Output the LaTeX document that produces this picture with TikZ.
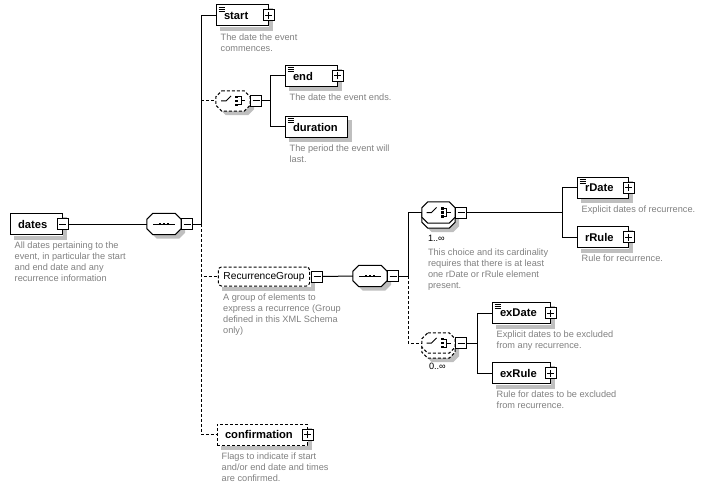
\documentclass[tikz,border=0pt]{standalone}
\usepackage{fontspec}
\setmainfont{Liberation Sans}
\usetikzlibrary{positioning, calc}
\tikzstyle{wire} = [line width=1pt]
\tikzstyle{optwire} = [line width=1pt, dash pattern=on 3pt off 2pt]
\colorlet{shadowgray}{black!25}

% octagon frame round an (invisible) compositor node, moved right by #2 and down by #3
\newcommand\compframe[4]{%
  \path[#4] ([shift={({6+#2},{#3})}]#1.north west) -- ([shift={({-6+#2},{#3})}]#1.north east)
    -- ([shift={({#2},{6+#3})}]#1.north east) -- ([shift={({#2},{-6+#3})}]#1.south east)
    -- ([shift={({-6+#2},{#3})}]#1.south east) -- ([shift={({6+#2},{#3})}]#1.south west)
    -- ([shift={({#2},{-6+#3})}]#1.south west) -- ([shift={({#2},{6+#3})}]#1.north west) -- cycle;}
% shadow strips on the right of and under a box
\newcommand\boxshadow[1]{%
  \fill[shadowgray] ($(#1.north east)+(0.5,4)$) rectangle ($(#1.south east)+(4.5,4.5)$);
  \fill[shadowgray] ($(#1.south west)+(4,0.5)$) rectangle ($(#1.south east)+(4.5,4.5)$);}
\newcommand\seqicon[1]{%
  \draw[line width=1pt] ([xshift=-11pt]#1.center) -- ([xshift=11pt]#1.center);
  \foreach \dx in {-4,0,4}
    \fill[black] ([shift={(\dx-1.4,-1.4)}]#1.center) rectangle ([shift={(\dx+1.4,1.4)}]#1.center);}
\newcommand\choiceicon[1]{%
  \draw[line width=1pt] ([xshift=-12pt]#1.center) -- ++(5,0) -- ++(5,-5);
  \foreach \dy in {-4,0,4}
    \fill[black] ([shift={(2.4,\dy-1.3)}]#1.center) rectangle ([shift={(5.2,\dy+1.3)}]#1.center);
  \draw[line width=1pt] ([shift={(5.2,-4)}]#1.center) -- ++(3,0) -- ++(0,8) -- ++(-3,0);
  \draw[line width=1pt] ([shift={(8,0)}]#1.center) -- ++(4,0);}

\begin{document}
\begin{tikzpicture}[
    x=1pt, y=-1pt,
    elem/.style={rectangle, draw, line width=1pt, fill=white, inner xsep=8pt, inner ysep=0pt, minimum height=21pt,
        align=left, font=\fontsize{11.2}{13}\selectfont\bfseries},
    optelem/.style={elem, dash pattern=on 3pt off 2pt},
    doc/.style={path picture={
        \foreach \dy in {2,4,6}
            \draw[line width=0.8pt, solid] ([shift={(2.5,\dy)}]path picture bounding box.north west) -- ++(6,0);
    }},
    group/.style={rectangle, rounded corners=3pt, draw, line width=1pt, dash pattern=on 3pt off 2pt, fill=white,
        inner xsep=5pt, inner ysep=0pt, minimum height=19pt, font=\fontsize{10.2}{12}\selectfont},
    comp/.style={rectangle, minimum width=34pt, minimum height=21pt, inner sep=0pt},
    frame/.style={draw, fill=white, line width=1pt},
    optframe/.style={frame, dash pattern=on 3pt off 2pt},
    btn/.style={rectangle, draw, line width=1pt, fill=white, minimum size=11pt, inner sep=0pt},
    minus/.style={btn, path picture={
        \draw[line width=1pt] ([xshift=-3.5pt]path picture bounding box.center) -- ([xshift=3.5pt]path picture bounding box.center);
    }},
    plus/.style={btn, path picture={
        \draw[line width=1pt] ([xshift=-3.5pt]path picture bounding box.center) -- ([xshift=3.5pt]path picture bounding box.center);
        \draw[line width=1pt] ([yshift=-3.5pt]path picture bounding box.center) -- ([yshift=3.5pt]path picture bounding box.center);
    }},
    desc/.style={anchor=north west, inner sep=0pt, align=left, text=black!50, font=\fontsize{9.2}{11}\selectfont},
    card/.style={anchor=north west, inner sep=0pt, font=\fontsize{9.2}{11}\selectfont}
]
    \useasboundingbox (0,0) rectangle (703,489);

    \coordinate (trunk) at (201,224);
    \coordinate (fork1) at (270,101);
    \coordinate (fork2) at (408,276);
    \coordinate (fork3) at (562,212.5);
    \coordinate (fork4) at (477,343);

    \node[elem, text width=36pt] (dates) at (36,224) {dates};
    \node[desc] (dates-doc) at ([shift={(5,7)}]dates.south west) {All dates pertaining to the\\event, in particular the start\\and end date and any\\recurrence information};

    \node[comp] (seq1) at (164,224) {};

    \node[elem, doc, text width=36pt] (start) at (242,15.5) {start};
    \node[desc] (start-doc) at ([shift={(5,7)}]start.south west) {The date the event\\commences.};

    \node[comp, minimum height=20pt] (ch1) at (233,101) {};

    \node[elem, doc, text width=36pt] (end) at (311,76) {end};
    \node[desc] (end-doc) at ([shift={(5,7)}]end.south west) {The date the event ends.};

    \node[elem, doc, text width=46pt] (duration) at (316,127) {duration};
    \node[desc] (duration-doc) at ([shift={(5,7)}]duration.south west) {The period the event will\\last.};

    \node[group] (recgroup) at (264,276.5) {RecurrenceGroup};
    \node[desc] (recgroup-doc) at ([shift={(5,7)}]recgroup.south west) {A group of elements to\\express a recurrence (Group\\defined in this XML Schema\\only)};

    \node[comp] (seq2) at (370,276) {};

    \node[comp, minimum width=33pt] (ch2) at (438.5,212.5) {};
    \node[card] (ch2-card) at ([shift={(6,12)}]ch2.south west) {1..∞};
    \node[desc] (ch2-doc) at ([shift={(0,7)}]ch2-card.south west) {This choice and its cardinality\\requires that there is at least\\one rDate or rRule element\\present.};

    \node[comp, minimum width=33pt, minimum height=20pt] (ch3) at (438.5,343) {};
    \node[card] (ch3-card) at ([shift={(7,10)}]ch3.south west) {0..∞};

    \node[elem, doc, text width=35pt] (rdate) at (602.5,187.5) {rDate};
    \node[desc] (rdate-doc) at ([shift={(5,7)}]rdate.south west) {Explicit dates of recurrence.};

    \node[elem, text width=35pt] (rrule) at (602.5,237) {rRule};
    \node[desc] (rrule-doc) at ([shift={(5,7)}]rrule.south west) {Rule for recurrence.};

    \node[elem, doc, text width=42pt] (exdate) at (521,313) {exDate};
    \node[desc] (exdate-doc) at ([shift={(5,7)}]exdate.south west) {Explicit dates to be excluded\\from any recurrence.};

    \node[elem, text width=42pt] (exrule) at (521,373) {exRule};
    \node[desc] (exrule-doc) at ([shift={(5,7)}]exrule.south west) {Rule for dates to be excluded\\from recurrence.};

    \node[optelem, text width=74pt] (confirm) at (262,434.5) {confirmation};
    \node[desc] (confirm-doc) at ([shift={(5,7)}]confirm.south west) {Flags to indicate if start\\and/or end date and times\\are confirmed.};

    \boxshadow{dates}
    \boxshadow{start}
    \boxshadow{end}
    \boxshadow{duration}
    \boxshadow{recgroup}
    \boxshadow{rdate}
    \boxshadow{rrule}
    \boxshadow{exdate}
    \boxshadow{exrule}
    \boxshadow{confirm}

    \compframe{seq1}{4}{4}{fill=shadowgray}
    \compframe{seq2}{4}{4}{fill=shadowgray}
    \compframe{ch1}{4}{4}{fill=shadowgray}
    \compframe{ch2}{4}{9}{fill=shadowgray}
    \compframe{ch3}{4}{9}{fill=shadowgray}
    \compframe{ch2}{0}{5}{frame}
    \compframe{ch3}{0}{5}{optframe}
    \compframe{seq1}{0}{0}{frame}
    \compframe{seq2}{0}{0}{frame}
    \compframe{ch2}{0}{0}{frame}
    \compframe{ch1}{0}{0}{optframe}
    \compframe{ch3}{0}{0}{optframe}

    \seqicon{seq1}
    \seqicon{seq2}
    \choiceicon{ch1}
    \choiceicon{ch2}
    \choiceicon{ch3}

    \node[minus] (dates-btn) at (dates.east) {};
    \node[minus, anchor=west] (seq1-btn) at (seq1.east) {};
    \node[plus] (start-btn) at (start.east) {};
    \node[minus, anchor=west] (ch1-btn) at (ch1.east) {};
    \node[plus] (end-btn) at (end.east) {};
    \node[minus, anchor=west] (recgroup-btn) at ([xshift=1pt]recgroup.east) {};
    \node[minus, anchor=west] (seq2-btn) at (seq2.east) {};
    \node[minus, anchor=west] (ch2-btn) at (ch2.east) {};
    \node[minus, anchor=west] (ch3-btn) at (ch3.east) {};
    \node[plus] (rdate-btn) at (rdate.east) {};
    \node[plus] (rrule-btn) at (rrule.east) {};
    \node[plus] (exdate-btn) at (exdate.east) {};
    \node[plus] (exrule-btn) at (exrule.east) {};
    \node[plus] (confirm-btn) at (confirm.east) {};

    \draw[wire] (dates-btn.east) -- (seq1.west);
    \draw[wire] (seq1-btn.east) -- (trunk);
    \draw[wire] (trunk) |- (start.west);
    \draw[optwire] (trunk |- ch1.west) -- (ch1.west);
    \draw[optwire] (trunk) |- (recgroup.west);
    \draw[optwire] (trunk) |- (confirm.west);

    \draw[wire] (ch1-btn.east) -- (fork1);
    \draw[wire] (fork1) |- (end.west);
    \draw[wire] (fork1) |- (duration.west);

    \draw[wire] (recgroup-btn.east) -- (seq2.west);
    \draw[wire] (seq2-btn.east) -- (fork2);
    \draw[wire] (fork2) |- (ch2.west);
    \draw[optwire] (fork2) |- (ch3.west);

    \draw[wire] (ch2-btn.east) -- (fork3);
    \draw[wire] (fork3) |- (rdate.west);
    \draw[wire] (fork3) |- (rrule.west);

    \draw[wire] (ch3-btn.east) -- (fork4);
    \draw[wire] (fork4) |- (exdate.west);
    \draw[wire] (fork4) |- (exrule.west);
\end{tikzpicture}
\end{document}
